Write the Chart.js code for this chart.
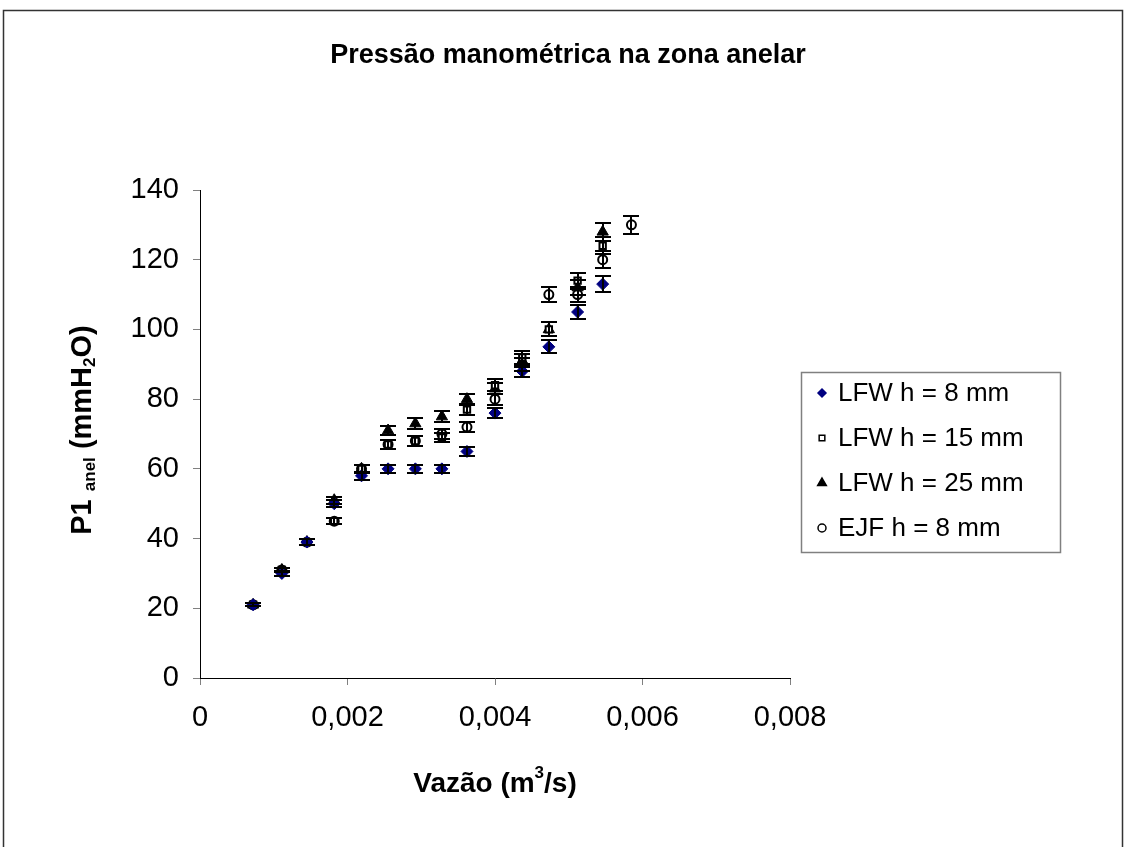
<!DOCTYPE html>
<html>
<head>
<meta charset="utf-8">
<script src="https://cdn.jsdelivr.net/npm/chart.js@4.4.1/dist/chart.umd.min.js"></script>
<style>
  body { margin: 0; background: #fff; }
</style>
</head>
<body>
<canvas id="grafico" width="1125" height="847"></canvas>
<script>
// dados
const vazao = [0.00072, 0.00111, 0.00145, 0.00182, 0.00219, 0.00255, 0.00292, 0.00328, 0.00362, 0.00400, 0.00437, 0.00473, 0.00512, 0.00546, 0.00585]
const lfw8  = [21, 30, 39, 50, 58, 60, 60, 60, 65, 76, 88, 95, 105, 113]
const lfw15 = [21, 31, 39, 45, 60, 67, 68, 69, 77, 84, 92, 100, 114, 124]
const lfw25 = [21, 31, 39, 51, 60, 71, 73, 75, 80, 83, 91, 100, 112, 128]
const ejf8  = [21, 31, 39, 45, 60, 67, 68, 70, 72, 80, 90, 110, 110, 120, 130]
const legendas = ['LFW h = 8 mm', 'LFW h = 15 mm', 'LFW h = 25 mm', 'EJF h = 8 mm']
const ERRO = 0.02 // barra de erro percentual

const pontos = serie => serie.map((v, i) => ({ x: vazao[i], y: v }))
const fonte = 'Arial, "Liberation Sans", sans-serif'

const barrasErro = {
    id: 'barrasErro',
    afterDatasetsDraw(chart) {
        const ctx = chart.ctx
        const escalaY = chart.scales.y
        ctx.save()
        ctx.strokeStyle = '#000'
        ctx.lineWidth = 2
        chart.data.datasets.forEach((ds, i) => {
            chart.getDatasetMeta(i).data.forEach((pt, j) => {
                const v = ds.data[j].y
                const y1 = Math.round(escalaY.getPixelForValue(v * (1 + ERRO)))
                const y2 = Math.round(escalaY.getPixelForValue(v * (1 - ERRO)))
                const x = Math.round(pt.x)
                ctx.beginPath()
                ctx.moveTo(x, y1); ctx.lineTo(x, y2)
                ctx.moveTo(x - 8, y1); ctx.lineTo(x + 8, y1)
                ctx.moveTo(x - 8, y2); ctx.lineTo(x + 8, y2)
                ctx.stroke()
            })
        })
        ctx.restore()
    }
}

const textos = {
    id: 'textos',
    afterDraw(chart) {
        const ctx = chart.ctx
        ctx.save()
        // moldura externa
        ctx.strokeStyle = '#333'
        ctx.lineWidth = 1.5
        ctx.strokeRect(3.5, 10.5, 1119, 850)

        ctx.fillStyle = '#000'
        ctx.textBaseline = 'alphabetic'
        ctx.textAlign = 'center'
        ctx.font = 'bold 27px ' + fonte
        ctx.fillText('Pressão manométrica na zona anelar', 568, 63)

        // título eixo x
        ctx.font = 'bold 28px ' + fonte
        const a = 'Vazão (m', b = '3', c = '/s)'
        ctx.textAlign = 'left'
        const wa = ctx.measureText(a).width, wc = ctx.measureText(c).width
        ctx.font = 'bold 17px ' + fonte
        const wb = ctx.measureText(b).width
        let x0 = 495 - (wa + wb + wc) / 2
        ctx.font = 'bold 28px ' + fonte
        ctx.fillText(a, x0, 792)
        ctx.font = 'bold 17px ' + fonte
        ctx.fillText(b, x0 + wa, 778)
        ctx.font = 'bold 28px ' + fonte
        ctx.fillText(c, x0 + wa + wb, 792)

        // título eixo y, com subscritos
        const partes = [['P1 ', 0], ['anel', 1], [' (mmH', 0], ['2', 1], ['O)', 0]]
        let total = 0
        partes.forEach(([t, s]) => {
            ctx.font = (s ? 'bold 17px ' : 'bold 29px ') + fonte
            total += ctx.measureText(t).width
        })
        ctx.translate(91, 430)
        ctx.rotate(-Math.PI / 2)
        let px = -total / 2
        partes.forEach(([t, s]) => {
            ctx.font = (s ? 'bold 17px ' : 'bold 29px ') + fonte
            ctx.fillText(t, px, s ? 4 : 0)
            px += ctx.measureText(t).width
        })
        ctx.restore()

        // legenda
        ctx.save()
        ctx.strokeStyle = '#808080'
        ctx.lineWidth = 1.5
        ctx.strokeRect(801.5, 372.5, 259, 180)
        ctx.font = '26px ' + fonte
        ctx.textBaseline = 'middle'
        chart.data.datasets.forEach((ds, i) => {
            const y = 393 + i * 45
            ctx.fillStyle = ds.backgroundColor
            ctx.strokeStyle = ds.borderColor
            ctx.lineWidth = 1.5
            Chart.helpers.drawPoint(ctx, {
                pointStyle: ds.pointStyle,
                radius: ds.pointStyle === 'triangle' ? 5 : 4,
                borderWidth: 1.5,
                rotation: 0
            }, 822, y)
            ctx.fillStyle = '#000'
            ctx.fillText(ds.label, 838, y + 1)
        })
        ctx.restore()
    }
}

new Chart(document.getElementById('grafico'), {
    type: 'scatter',
    data: {
        datasets: [
            {
                label: legendas[0],
                data: pontos(lfw8),
                pointStyle: 'rectRot',
                pointRadius: 6,
                backgroundColor: '#000080',
                borderColor: '#000080',
                borderWidth: 1
            }, {
                label: legendas[1],
                data: pontos(lfw15),
                pointStyle: 'rect',
                pointRadius: 4.5,
                backgroundColor: '#fff',
                borderColor: '#000',
                borderWidth: 2
            }, {
                label: legendas[2],
                data: pontos(lfw25),
                pointStyle: 'triangle',
                pointRadius: 6.5,
                backgroundColor: '#000',
                borderColor: '#000',
                borderWidth: 1
            }, {
                label: legendas[3],
                data: pontos(ejf8),
                pointStyle: 'circle',
                pointRadius: 4.5,
                backgroundColor: '#fff',
                borderColor: '#000',
                borderWidth: 2
            }
        ]
    },
    options: {
        responsive: false,
        animation: false,
        layout: { padding: { left: 0, top: 190, right: 335, bottom: 109 } },
        plugins: {
            legend: { display: false },
            title: { display: false },
            tooltip: { enabled: false }
        },
        scales: {
            x: {
                type: 'linear',
                min: 0,
                max: 0.008,
                afterFit: s => { s.height = 60 },
                ticks: {
                    stepSize: 0.002,
                    color: '#000',
                    padding: 16,
                    font: { size: 29, family: fonte },
                    callback: v => v === 0 ? '0' : v.toFixed(3).replace('.', ',')
                },
                grid: { drawOnChartArea: false, tickLength: 7, color: '#808080' },
                border: { color: '#000' }
            },
            y: {
                min: 0,
                max: 140,
                afterFit: s => { s.width = 200 },
                ticks: {
                    stepSize: 20,
                    color: '#000',
                    padding: 14,
                    font: { size: 29, family: fonte }
                },
                grid: { drawOnChartArea: false, tickLength: 7, color: '#808080' },
                border: { color: '#000' }
            }
        }
    },
    plugins: [barrasErro, textos]
})
</script>
</body>
</html>
